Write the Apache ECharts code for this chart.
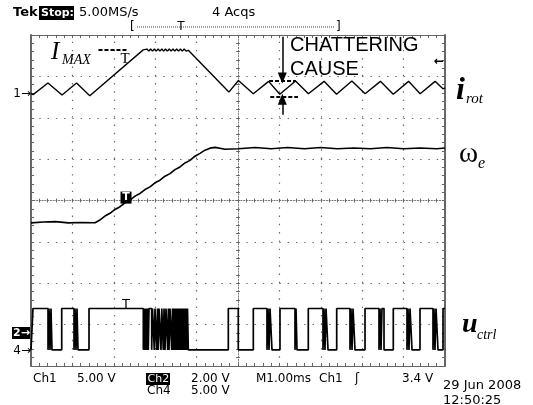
<!DOCTYPE html>
<html><head><meta charset="utf-8">
<script src="https://cdn.jsdelivr.net/npm/echarts@6/dist/echarts.min.js"></script>
<style>html,body{margin:0;padding:0;background:#fff}#c{width:533px;height:405px}</style>
</head><body><div id="c"></div>
<script>
// time axis: divisions (1 ms/div) relative to screen centre; vertical: divisions
const iRotT = [-5.00,-4.95,-4.59,-4.25,-3.90,-3.58,-2.29,
  -2.245,-2.20,-2.155,-2.11,-2.065,-2.02,-1.975,-1.93,-1.885,-1.84,-1.795,-1.75,-1.705,-1.66,-1.615,-1.57,-1.525,-1.48,-1.435,-1.39,-1.345,-1.30,-1.255,
  -1.20,-0.22,0.01,0.37,0.74,1.01,1.39,1.70,2.08,2.38,2.75,3.07,3.44,3.75,4.12,4.40,4.76,4.95,5.00];
const iRotV = [2.59,2.56,2.84,2.55,2.84,2.53,3.64,
  3.61,3.66,3.61,3.66,3.61,3.66,3.61,3.66,3.61,3.66,3.61,3.66,3.61,3.66,3.61,3.66,3.61,3.66,3.61,3.66,3.61,3.66,3.61,
  3.63,2.62,2.90,2.58,2.88,2.57,2.89,2.58,2.88,2.57,2.89,2.58,2.88,2.57,2.88,2.58,2.88,2.70,2.72];

const wT = [-5.00,-4.70,-4.40,-4.10,-3.80,-3.454,-3.333,-3.213,-3.092,-2.971,-2.850,-2.729,-2.609,-2.488,-2.367,-2.246,-2.126,-2.005,-1.884,-1.763,-1.643,-1.522,-1.401,-1.280,-1.159,-1.039,-0.918,-0.797,-0.676,-0.556,
  -0.31,0.01,0.41,0.80,1.20,1.60,2.00,2.40,2.80,3.20,3.60,4.00,4.40,4.80,5.00];
const wV = [-0.54,-0.52,-0.51,-0.54,-0.53,-0.537,-0.470,-0.376,-0.310,-0.217,-0.150,-0.055,0.010,0.106,0.170,0.265,0.330,0.427,0.490,0.588,0.650,0.747,0.810,0.908,0.970,1.070,1.140,1.217,1.265,1.284,
  1.24,1.25,1.28,1.25,1.28,1.25,1.28,1.25,1.27,1.25,1.28,1.25,1.27,1.25,1.27];

// u_ctrl: switching instants (each one toggles low/high), starting low
const uLevels = [-3.61, -2.61];
const uEdges = [-4.952,-4.589,-4.565,-4.541,-4.517,-4.493,-4.258,-3.961,-3.937,-3.913,-3.889,-3.865,-3.599,
  -2.287,-2.263,-2.246,-2.222,-2.205,-2.181,-2.167,-2.150,-2.085,-2.065,-2.022,-2.005,-1.964,-1.944,-1.925,-1.908,
  -1.860,-1.841,-1.804,-1.787,-1.763,-1.739,-1.698,-1.681,-1.667,-1.643,-1.601,-1.582,-1.563,-1.546,-1.527,-1.510,
  -1.490,-1.473,-1.454,-1.437,-1.418,-1.401,-1.382,-1.365,-1.345,-1.329,-1.309,-1.292,-1.273,-1.256,-1.239,-1.220,-1.200,
  -0.234,0.007,0.370,0.700,0.725,0.749,0.773,0.821,1.014,1.377,1.401,1.425,1.698,2.053,2.077,2.101,2.126,2.174,
  2.384,2.705,2.729,2.754,2.778,2.826,3.068,3.406,3.430,3.454,3.478,3.527,3.751,4.082,4.106,4.130,4.155,4.203,
  4.396,4.710,4.734,4.758,4.783,4.831,4.952];

// graticule division lines (dotted); centre lines drawn by the centre axes
const gridXDivs = [-4,-3,-2,-1,1,2,3,4];
const gridYDivs = [-3,-2,-1,1,2,3];

const zip = (a, b) => a.map((t, i) => [t, b[i]]);
const uData = [[-5, uLevels[0]]];
let st = 0;
uEdges.forEach(e => { uData.push([e, uLevels[st]]); st = 1 - st; uData.push([e, uLevels[st]]); });
uData.push([5, uLevels[st]]);

// graticule minor ticks every 0.2 division (border inward, centre cross both sides)
const TK = 0.075;
const tickSegs = [];
for (let i = 0; i <= 50; i++) {
  const x = -5 + i * 0.2;
  tickSegs.push([{coord:[x, 4]}, {coord:[x, 4 - TK]}]);
  tickSegs.push([{coord:[x, -4]}, {coord:[x, -4 + TK]}]);
  tickSegs.push([{coord:[x, -TK * 0.6]}, {coord:[x, TK * 0.6]}]);
}
for (let j = 0; j <= 40; j++) {
  const y = -4 + j * 0.2;
  tickSegs.push([{coord:[-5, y]}, {coord:[-5 + TK, y]}]);
  tickSegs.push([{coord:[5, y]}, {coord:[5 - TK, y]}]);
  tickSegs.push([{coord:[-TK * 0.6, y]}, {coord:[TK * 0.6, y]}]);
}

const GW = 414, GH = 331;
const BORDER = '#666';
function borderAxis(pos, horiz) {
  return { type:'value', min: horiz?-5:-4, max: horiz?5:4, interval:1, position:pos,
    axisLine:{show:true, onZero:false, lineStyle:{color:BORDER, width: horiz?1.2:2}},
    axisTick:{show:false}, axisLabel:{show:false}, splitLine:{show:false} };
}
function centreAxis(pos, horiz) {
  return { type:'value', min: horiz?-5:-4, max: horiz?5:4, interval:1, position: pos,
    axisLine:{show:true, onZero:true, onZeroAxisIndex:0, lineStyle:{color:'#777', width:1, type:[1.2,1.56]}},
    axisTick:{show:false}, axisLabel:{show:false}, splitLine:{show:false} };
}
const lineS = (data, w, extra) => Object.assign({ type:'line', data, symbol:'none', silent:true,
  lineStyle:{color:'#000', width:w}, z:5 }, extra || {});

const SANS = 'DejaVu Sans', SERIF = 'Liberation Serif';
function txt(text, x, y, font, extra) {
  return { type:'text', z:50, style:Object.assign({ text, x, y, font, fill:'#000',
    align:'left', verticalAlign:'middle', textAlign:'left', textVerticalAlign:'middle' }, extra || {}) };
}
function box(x, y, w, h) { return { type:'rect', z:49, shape:{x, y, width:w, height:h}, style:{fill:'#000'} }; }

const chart = echarts.init(document.getElementById('c'));
chart.setOption({
  animation:false,
  backgroundColor:'#fff',
  grid:{left:31, top:35, width:GW, height:GH, outerBoundsMode:'none', containLabel:false},
  xAxis:[borderAxis('bottom', true), borderAxis('top', true), centreAxis('bottom', true)],
  yAxis:[borderAxis('left', false), borderAxis('right', false), centreAxis('left', false)],
  series:[
    { type:'line', data:[[-5,-4]], symbol:'none', silent:true, z:1, lineStyle:{width:0},
      markLine:{ silent:true, symbol:['none','none'], label:{show:false}, animation:false,
        lineStyle:{color:'#666', width:1.2, type:[1.4,6.88]},
        data: gridXDivs.map(k => ({xAxis:k})).concat(gridYDivs.map(k => ({yAxis:k}))) } },
    { type:'line', data:[[-5,-4]], symbol:'none', silent:true, z:1, lineStyle:{width:0},
      markLine:{ silent:true, symbol:['none','none'], label:{show:false}, animation:false,
        lineStyle:{color:'#666', width:1, type:'solid'}, data: tickSegs } },
    lineS(zip(iRotT, iRotV), 1.4, { markLine:{ silent:true, symbol:['none','none'], label:{show:false}, animation:false,
      lineStyle:{color:'#000', width:2, type:[4,2]},
      data:[
        [{coord:[-3.37,3.64]},{coord:[-2.66,3.64]}],
        [{coord:[0.75,2.90]},{coord:[1.40,2.90]}],
        [{coord:[0.78,2.50]},{coord:[1.45,2.50]}],
        [{coord:[1.07,3.96], lineStyle:{type:'solid', width:1.5}},{coord:[1.07,2.96], symbol:'triangle', symbolSize:[9,11]}],
        [{coord:[1.07,2.07], lineStyle:{type:'solid', width:1.5}},{coord:[1.07,2.45], symbol:'triangle', symbolSize:[9,11]}]
      ] } }),
    lineS(zip(wT, wV), 1.6, { markPoint:{ silent:true, animation:false,
      data:[{coord:[-2.705,0.07], symbol:'rect', symbolSize:[11,12], itemStyle:{color:'#000'},
        label:{show:true, formatter:'T', color:'#fff', fontFamily:SANS, fontSize:11, fontWeight:'bold'}}] } }),
    lineS(uData, 1.7)
  ],
  graphic:[
    txt('Tek', 13, 12.5, 'bold 13px ' + SANS),
    box(39, 6, 35, 14),
    txt('Stop:', 41, 13, 'bold 11px ' + SANS, {fill:'#fff'}),
    txt('5.00MS/s', 79, 12.5, '13px ' + SANS),
    txt('4 Acqs', 212, 12.5, '13px ' + SANS),
    txt('[', 130, 27, '12px ' + SANS),
    txt(']', 336, 27, '12px ' + SANS),
    { type:'line', z:48, shape:{x1:137, y1:27, x2:335, y2:27}, style:{stroke:'#444', lineWidth:1, lineDash:[1,1]} },
    txt('T', 181, 27, '12px ' + SANS, {align:'center', textAlign:'center'}),
    txt('CHATTERING', 290, 45.8, '20px Liberation Sans'),
    txt('CAUSE', 290, 69.2, '20px Liberation Sans'),
    txt('I', 51, 52.3, 'italic 25px ' + SERIF),
    txt('MAX', 62, 60.3, 'italic 14px ' + SERIF),
    txt('T', 125, 59.3, '15px ' + SERIF, {align:'center', textAlign:'center'}),
    txt('i', 456, 91.2, 'italic bold 32px ' + SERIF),
    txt('rot', 466, 99, 'italic 15px ' + SERIF),
    txt('ω', 459, 154.5, '29px ' + SERIF),
    txt('e', 478, 164, 'italic 16px ' + SERIF),
    txt('u', 462, 324.5, 'italic bold 28px ' + SERIF),
    txt('ctrl', 477, 335.3, 'italic 14px ' + SERIF),
    txt('1→', 31, 93.5, '12px ' + SANS, {align:'right', textAlign:'right'}),
    box(12, 327, 18, 12),
    txt('2→', 13, 333, 'bold 11px ' + SANS, {fill:'#fff'}),
    txt('4→', 31, 351, '12px ' + SANS, {align:'right', textAlign:'right'}),
    txt('←', 444, 62, 'bold 12px ' + SANS, {align:'right', textAlign:'right'}),
    txt('T', 126, 305, '13px ' + SANS, {align:'center', textAlign:'center'}),
    txt('Ch1', 33, 379, '12px ' + SANS),
    txt('5.00 V', 77, 379, '12px ' + SANS),
    box(146, 373, 24, 12),
    txt('Ch2', 147.5, 379, '11px ' + SANS, {fill:'#fff'}),
    txt('2.00 V', 191, 379, '12px ' + SANS),
    txt('M1.00ms', 256, 379, '12px ' + SANS),
    txt('Ch1', 319, 379, '12px ' + SANS),
    txt('ʃ', 355, 379, '12px ' + SANS),
    txt('3.4 V', 402, 379, '12px ' + SANS),
    txt('Ch4', 147, 391, '12px ' + SANS),
    txt('5.00 V', 191, 391, '12px ' + SANS),
    txt('29 Jun 2008', 443, 386, '13px ' + SANS),
    txt('12:50:25', 443, 401, '13px ' + SANS)
  ]
});
</script></body></html>
